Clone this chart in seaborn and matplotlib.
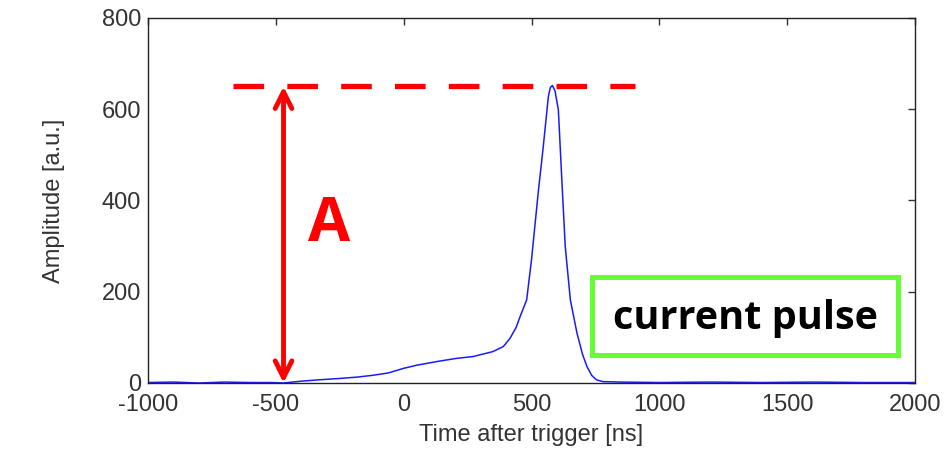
import numpy as np
import pandas as pd
import matplotlib
matplotlib.use("Agg")
import matplotlib.pyplot as plt
import seaborn as sns
from matplotlib.patches import Rectangle

# Current pulse waveform (time in ns, amplitude in a.u.)
time_ns = [-1000, -900, -800, -700, -600, -520, -470, -400, -330, -249, -180, -119,
           -60, -1, 51, 130, 207, 272, 350, 390, 416, 440, 455, 481, 500, 526, 546,
           566, 574, 582, 592, 605, 618, 632, 652, 678, 700, 717, 735, 754, 780, 850,
           1000, 1200, 1400, 1600, 1800, 2000]
amplitude = [1, 2, 0, 2, 1, 1, 0, 4, 7, 10, 13, 17, 22, 32, 39, 47, 54, 58, 69, 80,
             98, 122, 145, 182, 270, 416, 518, 628, 648, 652, 640, 599, 452, 299, 182,
             109, 62, 36, 17, 7, 3, 2, 1, 2, 1, 2, 1, 1]

peak_level = 650
arrow_x = -470
dash_span = (-667, 905)

x_ticks = [-1000, -500, 0, 500, 1000, 1500, 2000]
y_ticks = [0, 200, 400, 600, 800]

df = pd.DataFrame({"Time after trigger [ns]": time_ns, "Amplitude [a.u.]": amplitude})

sns.set_style("white")
plt.rcParams["font.family"] = ["Liberation Sans", "DejaVu Sans"]
plt.rcParams["axes.unicode_minus"] = False

fig = plt.figure(figsize=(9.47, 4.54), dpi=100)
ax = fig.add_axes([0.1563, 0.1564, 0.8099, 0.804])

sns.lineplot(data=df, x="Time after trigger [ns]", y="Amplitude [a.u.]", ax=ax,
             color="#1a1aff", linewidth=1.1)

ax.set_xlim(-1000, 2000)
ax.set_ylim(0, 800)
ax.set_xticks(x_ticks)
ax.set_yticks(y_ticks)
ax.tick_params(direction="in", length=5, width=1, top=True, right=True,
               labelsize=17, colors="#333333")
ax.tick_params(axis="x", pad=8)
ax.tick_params(axis="y", pad=5)
for s in ax.spines.values():
    s.set_color("#222222")
    s.set_linewidth(1.0)
ax.set_xlabel("Time after trigger [ns]", fontsize=17, color="#333333", labelpad=6)
ax.set_ylabel("Amplitude [a.u.]", fontsize=17, color="#333333", labelpad=26)

# peak level marker
ax.plot(dash_span, [peak_level, peak_level], color="red", linewidth=3.8,
        dashes=(5.8, 4.4), solid_capstyle="butt", zorder=5)

# amplitude arrow
ax.annotate("", xy=(arrow_x, peak_level), xytext=(arrow_x, 0),
            arrowprops=dict(arrowstyle="<->", color="red", lw=3.5,
                            mutation_scale=30, shrinkA=0, shrinkB=0),
            zorder=6)
ax.text(-290, 346, "A", color="red", fontsize=44, fontweight="bold",
        family=["Open Sans", "DejaVu Sans"], ha="center", va="center")

# label box
fig.patches.append(Rectangle((0.6251, 0.2181), 0.3231, 0.1718,
                             transform=fig.transFigure, facecolor="white",
                             edgecolor="#66ff33", linewidth=3.6, zorder=7))
fig.text(0.787, 0.298, "current pulse", fontsize=28.5, fontweight="bold",
         family=["Open Sans", "DejaVu Sans"], color="black",
         ha="center", va="center", zorder=8)

fig.savefig("out.png", dpi=100)
